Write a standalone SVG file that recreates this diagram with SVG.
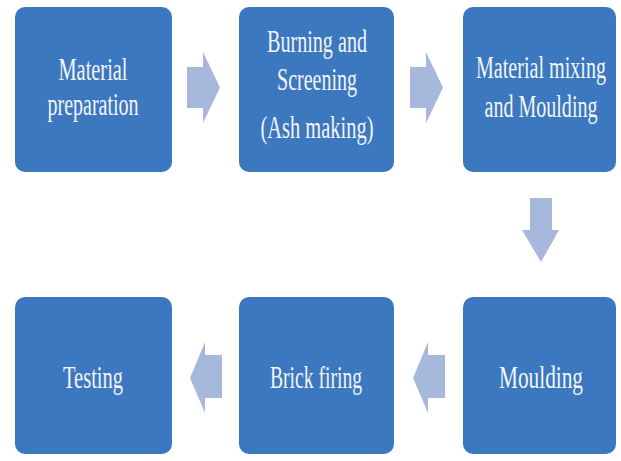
<svg xmlns="http://www.w3.org/2000/svg" width="621" height="461" viewBox="0 0 621 461">
<style>
.box{fill:#3b78c0;}
.lbl{font-family:"Liberation Serif","Times New Roman",serif;font-size:21px;fill:#f5f5f5;text-anchor:middle;}
.arr{fill:#a6b9dc;}
</style>
<rect width="621" height="461" fill="#ffffff"/>
<g id="connectors">
<polygon class="arr" points="187,67 203,67 203,52 220,87.5 203,123 203,108 187,108"/>
<polygon class="arr" points="410,67 426,67 426,52 443,87.5 426,123 426,108 410,108"/>
<polygon class="arr" points="530,198 552,198 552,230 559,230 541,262 522,230 530,230"/>
<polygon class="arr" points="445,355 428,355 428,342 413,378 428,413 428,398 445,398"/>
<polygon class="arr" points="222,355 205,355 205,342 190,378 205,413 205,398 222,398"/>
</g>
<g id="n1">
<rect class="box" x="15" y="7" width="157" height="165" rx="10"/>
<g transform="translate(93,80) scale(1,1.5)"><text class="lbl" x="0" y="0" textLength="69" lengthAdjust="spacingAndGlyphs">Material</text></g>
<g transform="translate(93,115) scale(1,1.5)"><text class="lbl" x="0" y="0" textLength="91" lengthAdjust="spacingAndGlyphs">preparation</text></g>
</g>
<g id="n2">
<rect class="box" x="239" y="7" width="155" height="165" rx="10"/>
<g transform="translate(317,52) scale(1,1.5)"><text class="lbl" x="0" y="0" textLength="100" lengthAdjust="spacingAndGlyphs">Burning and</text></g>
<g transform="translate(317,90) scale(1,1.5)"><text class="lbl" x="0" y="0" textLength="80" lengthAdjust="spacingAndGlyphs">Screening</text></g>
<g transform="translate(317,138) scale(1,1.5)"><text class="lbl" x="0" y="0" textLength="113" lengthAdjust="spacingAndGlyphs">(Ash making)</text></g>
</g>
<g id="n3">
<rect class="box" x="463" y="7" width="153" height="165" rx="10"/>
<g transform="translate(541,78) scale(1,1.5)"><text class="lbl" x="0" y="0" textLength="130" lengthAdjust="spacingAndGlyphs">Material mixing</text></g>
<g transform="translate(541,117) scale(1,1.5)"><text class="lbl" x="0" y="0" textLength="113" lengthAdjust="spacingAndGlyphs">and Moulding</text></g>
</g>
<g id="n4">
<rect class="box" x="463" y="297" width="153" height="157" rx="10"/>
<g transform="translate(541,388) scale(1,1.5)"><text class="lbl" x="0" y="0" textLength="84" lengthAdjust="spacingAndGlyphs">Moulding</text></g>
</g>
<g id="n5">
<rect class="box" x="239" y="297" width="155" height="157" rx="10"/>
<g transform="translate(316,388) scale(1,1.5)"><text class="lbl" x="0" y="0" textLength="92" lengthAdjust="spacingAndGlyphs">Brick firing</text></g>
</g>
<g id="n6">
<rect class="box" x="15" y="297" width="157" height="157" rx="10"/>
<g transform="translate(93,388) scale(1,1.5)"><text class="lbl" x="0" y="0" textLength="60" lengthAdjust="spacingAndGlyphs">Testing</text></g>
</g>
</svg>
